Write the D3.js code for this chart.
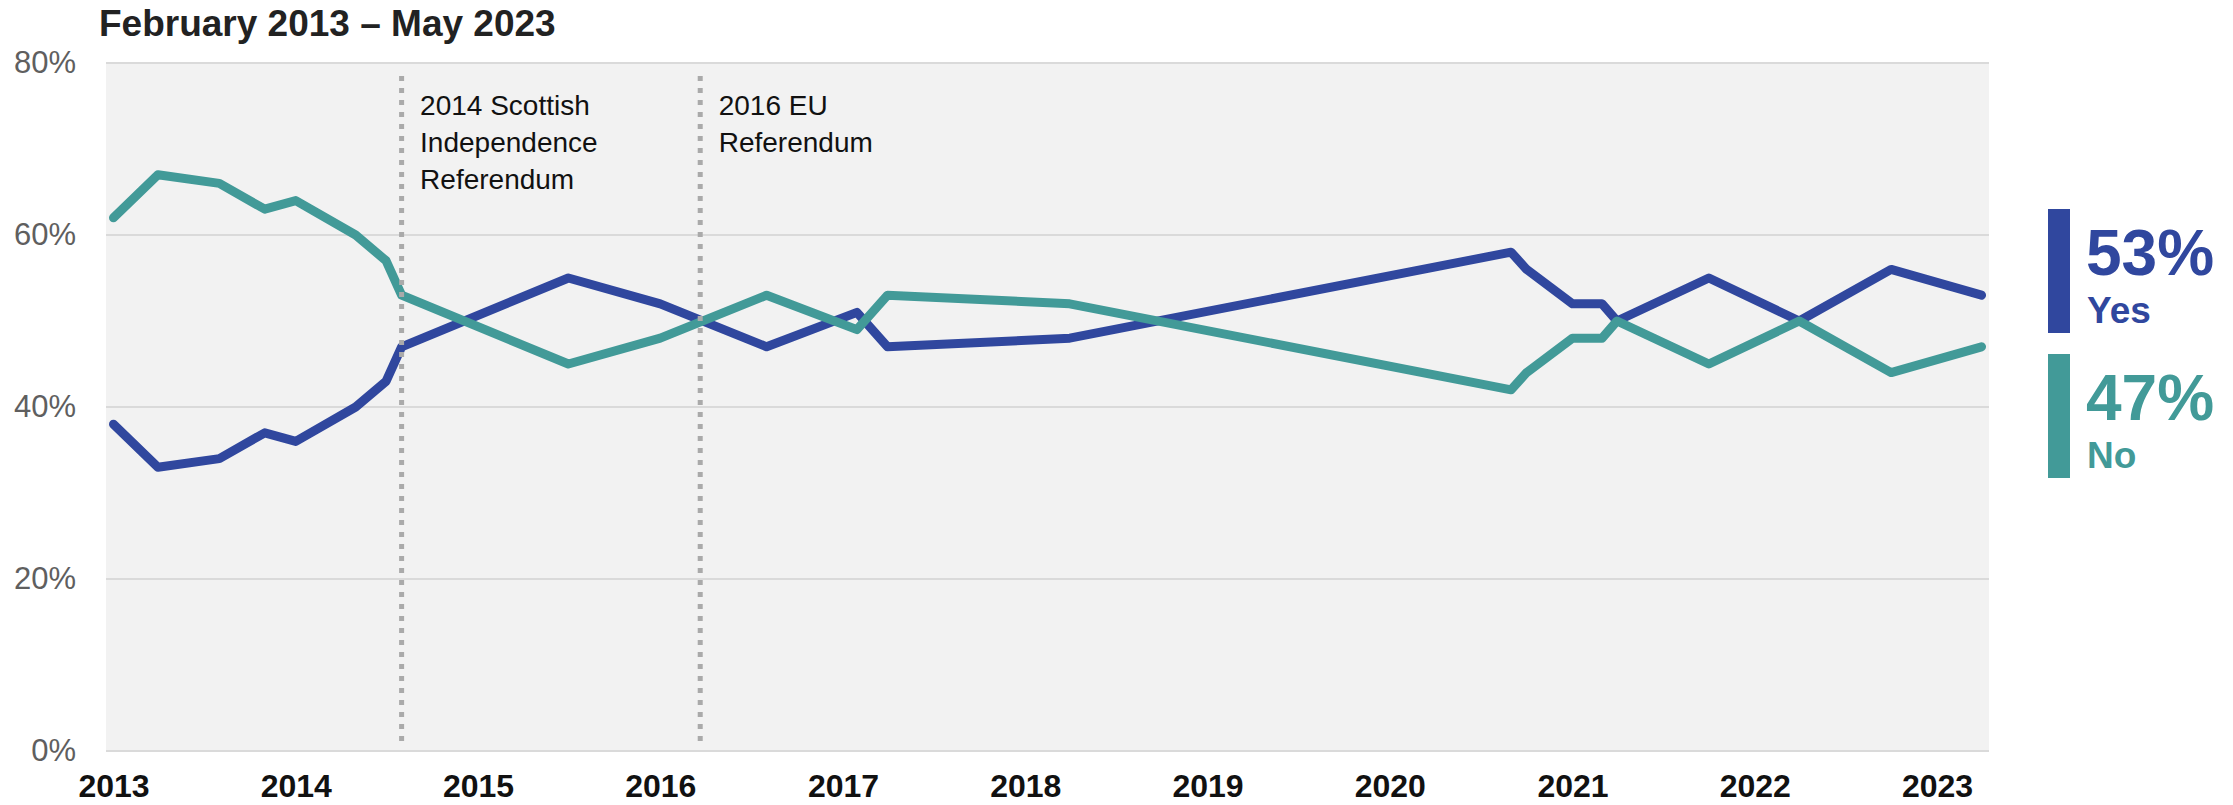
<!DOCTYPE html>
<html>
<head>
<meta charset="utf-8">
<script src="https://cdn.jsdelivr.net/npm/d3@7/dist/d3.min.js"></script>
<style>
  html, body { margin: 0; padding: 0; background: #ffffff; }
  svg { display: block; font-family: "Liberation Sans", Arial, sans-serif; }
</style>
</head>
<body>
<svg id="chart" width="2233" height="805"></svg>
<script>
// ---- Data ----
const dates = ["2013-02-01","2013-05-01","2013-09-01","2013-12-01","2014-02-01","2014-06-01",
  "2014-08-01","2014-09-01","2015-08-01","2016-02-01","2016-09-01","2017-03-01","2017-05-01",
  "2018-05-01","2020-10-01","2020-11-01","2021-02-01","2021-04-01","2021-05-01","2021-11-01",
  "2022-05-01","2022-11-01","2023-05-01"];
const yesValues = [38,33,34,37,36,40,43,47,55,52,47,51,47,48,58,56,52,52,50,55,50,56,53];
const noValues  = [62,67,66,63,64,60,57,53,45,48,53,49,53,52,42,44,48,48,50,45,50,44,47];
const seriesNames = ["Yes", "No"];
const yearTicks = [2013,2014,2015,2016,2017,2018,2019,2020,2021,2022,2023];
const yTicks = [0,20,40,60,80];
const eventDates = ["2014-09-01", "2016-04-21"];
const eventLabels = [["2014 Scottish","Independence","Referendum"], ["2016 EU","Referendum"]];
const titleText = "February 2013 \u2013 May 2023";

// ---- Layout / style ----
const colors = { Yes: "#30479e", No: "#429a98" };
const plot = { left: 106, right: 1989, top: 63, bottom: 751 };

const svg = d3.select("#chart");
const parse = d3.utcParse("%Y-%m-%d");

const x = d3.scaleUtc()
  .domain([Date.UTC(2013, 0, 17), Date.UTC(2023, 4, 16)])
  .range([plot.left, plot.right]);
const y = d3.scaleLinear().domain([0, 80]).range([plot.bottom, plot.top]);

// Title
svg.append("text")
  .attr("x", 99).attr("y", 36)
  .attr("font-size", 37).attr("font-weight", "bold").attr("fill", "#222")
  .text(titleText);

// Plot background
svg.append("rect")
  .attr("x", plot.left).attr("y", plot.top)
  .attr("width", plot.right - plot.left).attr("height", plot.bottom - plot.top)
  .attr("fill", "#f2f2f2");

// Gridlines
svg.append("g").selectAll("line").data(yTicks).join("line")
  .attr("x1", plot.left).attr("x2", plot.right)
  .attr("y1", d => y(d)).attr("y2", d => y(d))
  .attr("stroke", "#dadada").attr("stroke-width", 2);

// Y axis
const yAxis = svg.append("g")
  .attr("transform", `translate(${plot.left},0)`)
  .call(d3.axisLeft(y).tickValues(yTicks).tickFormat(d => d + "%").tickSize(0).tickPadding(30));
yAxis.select(".domain").remove();
yAxis.selectAll("text")
  .attr("font-size", 31).attr("fill", "#5f5f5f")
  .attr("font-family", "'Liberation Sans', Arial, sans-serif");

// X axis
const xAxis = svg.append("g")
  .attr("transform", `translate(0,${plot.bottom})`)
  .call(d3.axisBottom(x)
    .tickValues(yearTicks.map(yr => new Date(Date.UTC(yr, 1, 1))))
    .tickFormat(d3.utcFormat("%Y")).tickSize(0));
xAxis.select(".domain").remove();
xAxis.selectAll("text")
  .attr("y", 46).attr("dy", 0)
  .attr("font-size", 32).attr("font-weight", "bold").attr("fill", "#111")
  .attr("font-family", "'Liberation Sans', Arial, sans-serif");

// Lines
const series = [
  { name: seriesNames[0], values: yesValues },
  { name: seriesNames[1], values: noValues }
];
const line = d3.line()
  .x((d, i) => x(parse(dates[i])))
  .y(d => y(d));

svg.append("g").selectAll("path").data(series).join("path")
  .attr("d", s => line(s.values))
  .attr("fill", "none")
  .attr("stroke", s => colors[s.name])
  .attr("stroke-width", 9)
  .attr("stroke-linecap", "round")
  .attr("stroke-linejoin", "round");

// Event lines + labels
const ev = svg.append("g");
eventDates.forEach((d, i) => {
  const ex = x(parse(d));
  ev.append("line")
    .attr("x1", ex).attr("x2", ex)
    .attr("y1", y(78.5)).attr("y2", y(0.7))
    .attr("stroke", "#aaaaaa").attr("stroke-width", 5)
    .attr("stroke-dasharray", "5,7");
  const t = ev.append("text")
    .attr("x", ex + 18.5).attr("y", 115)
    .attr("font-size", 28).attr("fill", "#111");
  eventLabels[i].forEach((ln, j) => {
    t.append("tspan").attr("x", ex + 18.5).attr("y", 115 + j * 37).text(ln);
  });
});

// Legend (end values)
const legend = svg.append("g");
const legendTops = [209, 354];
series.forEach((s, i) => {
  const top = legendTops[i];
  legend.append("rect")
    .attr("x", 2048).attr("y", top).attr("width", 22).attr("height", 124)
    .attr("fill", colors[s.name]);
  legend.append("text")
    .attr("x", 2086).attr("y", top + 66)
    .attr("font-size", 64).attr("font-weight", "bold").attr("fill", colors[s.name])
    .text(s.values[s.values.length - 1] + "%");
  legend.append("text")
    .attr("x", 2087).attr("y", top + 114)
    .attr("font-size", 37).attr("font-weight", "bold").attr("fill", colors[s.name])
    .text(s.name);
});
</script>
</body>
</html>
